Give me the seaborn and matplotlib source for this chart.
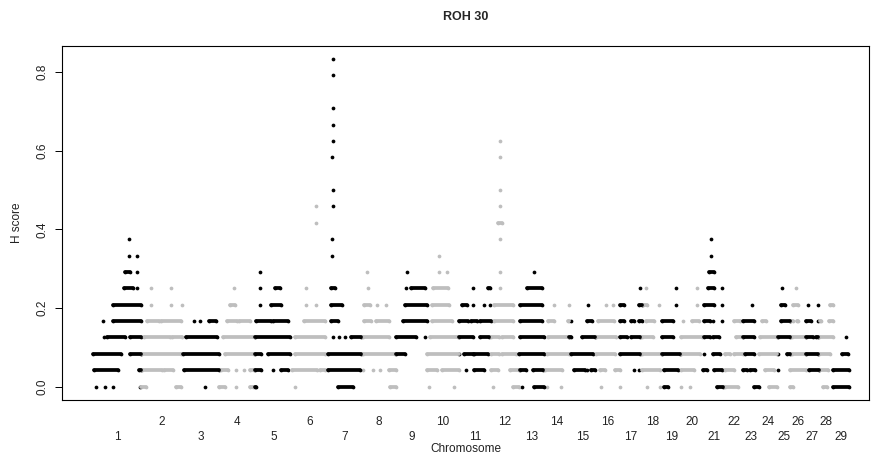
import numpy as np
import pandas as pd
import matplotlib
matplotlib.use("Agg")
import matplotlib.pyplot as plt
import seaborn as sns

# Chromosome lengths (Mb), autosomes 1-29
chrom_lengths = [158, 137, 121, 120, 121, 119, 112, 113, 105, 104, 107, 91, 84, 84,
                 85, 81, 75, 66, 64, 72, 71, 61, 52, 62, 42, 51, 45, 46, 51]
chrom_names = [str(i) for i in range(1, 30)]

# Number of animals; H score = animals in ROH / n_animals
n_animals = 24

# Runs of equal H score along each chromosome: (animals, start Mb, end Mb)
chr1 = [(9, 118, 118), (8, 118, 118), (8, 145, 145), (7, 105, 121), (7, 145, 145),
        (6, 101, 132), (6, 145, 145), (5, 66, 157), (4, 34, 34), (4, 66, 157),
        (3, 37, 37), (3, 47, 105), (3, 121, 157), (2, 0, 93), (2, 121, 157),
        (1, 2, 84), (1, 152, 158), (0, 10, 10), (0, 40, 40), (0, 65, 65), (0, 155, 155)]
chr2 = [(6, 32, 32), (6, 101, 101), (5, 32, 32), (5, 101, 101), (5, 135, 135),
        (4, 19, 60), (4, 68, 133), (3, 10, 95), (3, 102, 137), (2, 0, 133),
        (1, 3, 70), (1, 78, 108), (0, 0, 16), (0, 117, 133)]
chr3 = [(4, 39, 39), (4, 59, 59), (4, 88, 111), (3, 13, 116), (2, 1, 121),
        (1, 7, 121), (0, 76, 76)]
chr4 = [(6, 49, 49), (5, 37, 52), (4, 27, 60), (4, 66, 104), (3, 15, 120), (2, 22, 118),
        (1, 6, 31), (1, 58, 58), (1, 83, 83), (1, 104, 118), (0, 0, 22), (0, 58, 58),
        (0, 104, 113)]
chr5 = [(7, 15, 15), (6, 15, 15), (6, 65, 81), (5, 15, 15), (5, 52, 85), (4, 3, 52),
        (4, 59, 108), (3, 0, 114), (2, 0, 20), (2, 43, 114), (1, 0, 20), (1, 59, 59),
        (1, 85, 108), (0, 0, 3)]
chr6 = [(11, 79, 79), (10, 79, 79), (6, 46, 46), (5, 46, 46), (5, 79, 79), (4, 40, 112),
        (3, 11, 112), (2, 11, 112), (1, 0, 83), (1, 94, 112), (0, 10, 10)]
chr7 = [(20, 17, 17), (19, 17, 17), (17, 17, 17), (16, 17, 17), (15, 17, 17),
        (14, 16, 16), (12, 17, 17), (11, 17, 17), (9, 14, 14), (8, 14, 14), (6, 11, 25),
        (5, 11, 47), (4, 11, 36), (3, 17, 17), (3, 37, 37), (3, 56, 56), (3, 76, 112),
        (2, 0, 112), (1, 0, 108), (0, 36, 83)]
chr8 = [(7, 19, 19), (6, 21, 21), (5, 9, 27), (5, 52, 52), (5, 82, 82), (4, 9, 30),
        (4, 49, 90), (3, 6, 92), (2, 6, 110), (1, 6, 6), (1, 37, 37), (1, 61, 61),
        (1, 92, 113), (0, 95, 113)]
chr9 = [(7, 38, 38), (6, 35, 35), (6, 52, 98), (5, 31, 105), (4, 24, 105), (3, 0, 66),
        (3, 98, 98), (2, 0, 31)]
chr10 = [(8, 38, 38), (7, 38, 38), (7, 65, 65), (6, 20, 68), (5, 16, 71), (4, 16, 81),
         (3, 10, 101), (2, 0, 104), (1, 0, 33), (1, 49, 104), (0, 6, 6), (0, 87, 87)]
chr11 = [(6, 48, 48), (6, 96, 105), (5, 12, 26), (5, 48, 48), (5, 85, 85), (5, 105, 105),
         (4, 0, 31), (4, 39, 61), (4, 71, 107), (3, 0, 48), (3, 71, 100), (2, 0, 0),
         (2, 18, 48), (2, 51, 96), (1, 23, 23), (1, 52, 84)]
chr12 = [(15, 30, 30), (14, 30, 30), (12, 30, 30), (11, 30, 30), (10, 24, 36),
         (9, 30, 30), (7, 30, 30), (6, 30, 30), (5, 11, 73), (4, 11, 73), (3, 0, 25),
         (3, 36, 73), (2, 0, 25), (2, 36, 84), (1, 0, 22), (1, 62, 91), (0, 6, 6),
         (0, 73, 91)]
chr13 = [(7, 50, 50), (6, 28, 76), (5, 3, 76), (4, 3, 76), (3, 3, 84), (2, 0, 84),
         (1, 3, 24), (1, 49, 80), (0, 12, 12), (0, 52, 84)]
chr14 = [(5, 32, 32), (5, 84, 84), (4, 12, 32), (4, 80, 84), (3, 12, 84), (2, 9, 84),
         (1, 3, 61), (0, 9, 9), (0, 55, 55)]
chr15 = [(5, 63, 63), (4, 7, 7), (4, 60, 74), (3, 0, 7), (3, 42, 85), (2, 7, 78),
         (1, 14, 53), (1, 60, 60), (1, 71, 85)]
chr16 = [(5, 37, 37), (5, 58, 58), (4, 10, 64), (3, 3, 68), (2, 3, 65), (1, 16, 32),
         (1, 65, 81), (0, 19, 19), (0, 81, 81)]
chr17 = [(6, 67, 67), (5, 3, 16), (5, 63, 74), (4, 3, 16), (4, 39, 48), (4, 63, 74),
         (3, 3, 24), (3, 39, 69), (2, 0, 69), (1, 48, 48), (1, 63, 63)]
chr18 = [(6, 11, 11), (5, 4, 17), (5, 56, 56), (4, 11, 40), (3, 0, 36), (2, 0, 66),
         (1, 0, 59), (0, 17, 17), (0, 59, 59)]
chr19 = [(6, 45, 45), (5, 45, 45), (4, 0, 37), (3, 0, 37), (2, 0, 59), (1, 5, 53),
         (0, 5, 21)]
chr20 = [(6, 51, 51), (5, 51, 51), (4, 6, 6), (4, 34, 57), (3, 0, 69), (2, 0, 62),
         (1, 0, 40), (0, 0, 0), (0, 28, 28)]
chr21 = [(9, 27, 27), (8, 27, 27), (7, 18, 35), (6, 17, 35), (6, 61, 61), (5, 2, 36),
         (5, 61, 61), (4, 2, 22), (4, 32, 32), (4, 61, 61), (3, 2, 22), (3, 32, 51),
         (2, 2, 2), (2, 32, 56), (1, 0, 12), (1, 36, 61), (0, 47, 65)]
chr22 = [(4, 30, 49), (3, 38, 61), (2, 0, 19), (2, 30, 61), (1, 0, 30), (0, 0, 44)]
chr23 = [(5, 29, 29), (4, 0, 35), (3, 0, 35), (2, 7, 35), (1, 0, 13), (1, 23, 39),
         (0, 35, 51)]
chr24 = [(4, 9, 25), (3, 3, 61), (2, 0, 61), (1, 19, 50), (0, 34, 61)]
chr25 = [(6, 15, 15), (5, 10, 26), (4, 10, 42), (3, 0, 42), (2, 3, 3), (2, 31, 42),
         (1, 0, 0)]
chr26 = [(6, 20, 20), (5, 10, 27), (4, 0, 10), (4, 23, 27), (3, 7, 51), (2, 7, 51),
         (1, 0, 51), (0, 0, 10)]
chr27 = [(5, 6, 6), (5, 40, 40), (4, 0, 17), (4, 40, 40), (3, 0, 23), (3, 35, 40),
         (2, 0, 40), (1, 12, 45)]
chr28 = [(5, 37, 46), (4, 3, 6), (4, 31, 46), (3, 0, 46), (2, 0, 37), (1, 0, 28),
         (0, 11, 26)]
chr29 = [(3, 44, 44), (2, 28, 49), (1, 0, 51), (0, 0, 51)]

chromosomes = [chr1, chr2, chr3, chr4, chr5, chr6, chr7, chr8, chr9, chr10, chr11,
               chr12, chr13, chr14, chr15, chr16, chr17, chr18, chr19, chr20, chr21,
               chr22, chr23, chr24, chr25, chr26, chr27, chr28, chr29]

# Cumulative genome coordinates
offsets = np.concatenate([[0], np.cumsum(chrom_lengths)[:-1]])
centers = offsets + np.array(chrom_lengths) / 2.0

rows = []
run_id = 0
for ci, runs in enumerate(chromosomes):
    parity = "odd" if (ci + 1) % 2 == 1 else "even"
    for animals, start, end in runs:
        score = animals / n_animals
        for pos in sorted({start, end}):
            rows.append({"pos": offsets[ci] + pos, "H": score,
                         "parity": parity, "run": run_id})
        run_id += 1
df = pd.DataFrame(rows)

palette = {"odd": "#000000", "even": "#BEBEBE"}

sns.set_style("white")
plt.rcParams["font.family"] = ["Liberation Sans", "DejaVu Sans"]

fig = plt.figure(figsize=(8.73, 4.54), dpi=100)
ax = fig.add_axes([62 / 873, 1 - 399.6 / 454, 807 / 873, (399.6 - 45.9) / 454])

dot_pt = 2.7
# even chromosomes first so the black ones sit on top at the borders
for par in ["even", "odd"]:
    sub = df[df["parity"] == par]
    sns.lineplot(data=sub, x="pos", y="H", units="run", estimator=None, sort=False,
                 color=palette[par], linewidth=dot_pt, solid_capstyle="round",
                 legend=False, ax=ax)
    sns.scatterplot(data=sub, x="pos", y="H", color=palette[par], s=dot_pt ** 2,
                    linewidth=0, legend=False, ax=ax)

ax.set_xlim(-102.9, 2567.5)
ax.set_ylim(-0.0333, 0.8667)

for side in ["left", "right", "top", "bottom"]:
    ax.spines[side].set_visible(True)
    ax.spines[side].set_color("black")
    ax.spines[side].set_linewidth(0.8)

ax.set_yticks([0.0, 0.2, 0.4, 0.6, 0.8])
ax.set_yticklabels(["0.0", "0.2", "0.4", "0.6", "0.8"], rotation=90, va="center",
                   fontsize=8.5, color="#222222")
ax.tick_params(axis="y", left=True, length=5.4, width=0.7, color="black", pad=4,
               direction="out")

ax.set_xticks(centers)
ax.set_xticklabels([n if (i + 1) % 2 == 0 else "\n" + n
                    for i, n in enumerate(chrom_names)],
                   fontsize=8.5, color="#222222", linespacing=1.35)
ax.tick_params(axis="x", bottom=False, length=0, pad=11.5)

ax.set_xlabel("Chromosome", fontsize=8.5, color="#222222", labelpad=0.5)
ax.set_ylabel("H score", fontsize=8.5, color="#222222", labelpad=10)
ax.set_title("ROH 30", fontsize=9, fontweight="bold", pad=19)

fig.savefig("out.png", dpi=100)
